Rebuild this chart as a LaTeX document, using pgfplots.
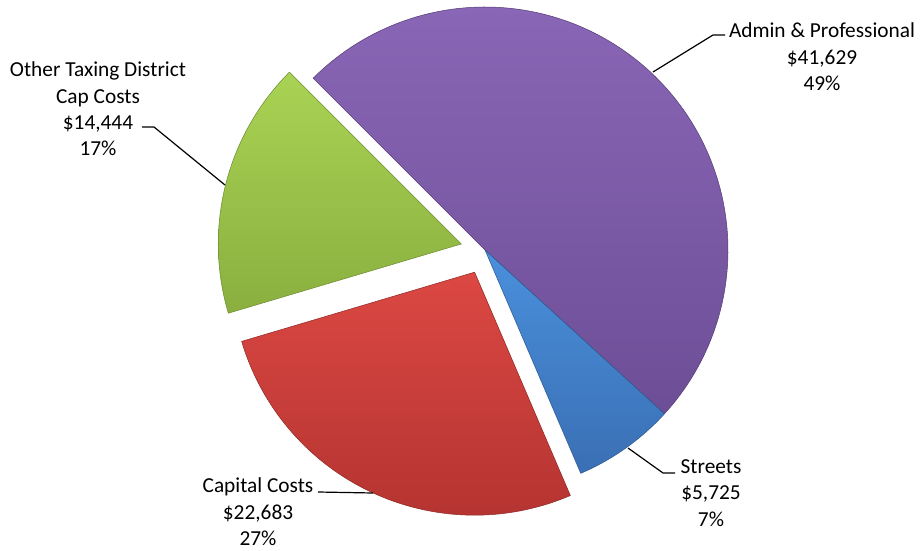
\documentclass[border=0pt]{standalone}
\usepackage{pgfplots}
\pgfplotsset{compat=1.18}
\usepackage{fontspec}
\setmainfont{Carlito}
\definecolor{pA}{HTML}{8A66B6}
\definecolor{pB}{HTML}{6C4E96}
\definecolor{bA}{HTML}{4A90DC}
\definecolor{bB}{HTML}{3A6FB4}
\definecolor{rA}{HTML}{DC4843}
\definecolor{rB}{HTML}{B53431}
\definecolor{gA}{HTML}{A9D354}
\definecolor{gB}{HTML}{8AAF3F}
\begin{document}
\begin{tikzpicture}
% values in thousands of dollars
\def\vA{41.629}% Admin & Professional
\def\vB{5.725}% Streets
\def\vC{22.683}% Capital Costs
\def\vD{14.444}% Other Taxing District Cap Costs
\def\R{243}
\pgfmathsetmacro\tot{\vA+\vB+\vC+\vD}
\pgfmathsetmacro\aA{135}
\pgfmathsetmacro\aB{\aA-\vA/\tot*360}
\pgfmathsetmacro\aC{\aB-\vB/\tot*360}
\pgfmathsetmacro\aD{\aC-\vC/\tot*360}
\pgfmathsetmacro\aE{\aD-\vD/\tot*360}
\pgfmathsetmacro\mC{(\aC+\aD)/2}
\pgfmathsetmacro\mD{(\aD+\aE)/2}
\pgfmathsetmacro\cxC{485+24.5*cos(\mC)}
\pgfmathsetmacro\cyC{300+24.5*sin(\mC)}
\pgfmathsetmacro\cxD{485+24.5*cos(\mD)}
\pgfmathsetmacro\cyD{300+24.5*sin(\mD)}
\begin{axis}[hide axis, scale only axis, width=690.75pt, height=412.5pt,
  xmin=0, xmax=921, ymin=0, ymax=550, clip=false]
\path (axis cs:0,0) rectangle (axis cs:921,550);
% Admin & Professional
\addplot[draw=pB!80!black, line width=0.4pt, top color=pA, bottom color=pB, domain=\aB:\aA, samples=120, variable=\t]
  ({485+\R*cos(\t)},{300+\R*sin(\t)}) -- (axis cs:485,300) -- cycle;
% Streets
\addplot[draw=bB!80!black, line width=0.4pt, top color=bA, bottom color=bB, domain=\aC:\aB, samples=40, variable=\t]
  ({485+\R*cos(\t)},{300+\R*sin(\t)}) -- (axis cs:485,300) -- cycle;
% Capital Costs (exploded)
\addplot[draw=rB!80!black, line width=0.4pt, top color=rA, bottom color=rB, domain=\aD:\aC, samples=80, variable=\t]
  ({\cxC+\R*cos(\t)},{\cyC+\R*sin(\t)}) -- (axis cs:\cxC,\cyC) -- cycle;
% Other Taxing District Cap Costs (exploded)
\addplot[draw=gB!80!black, line width=0.4pt, top color=gA, bottom color=gB, domain=\aE:\aD, samples=60, variable=\t]
  ({\cxD+\R*cos(\t)},{\cyD+\R*sin(\t)}) -- (axis cs:\cxD,\cyD) -- cycle;
% leader lines
\draw[black, line width=0.9pt] (axis cs:653,478) -- (axis cs:713,515) -- (axis cs:725,515);
\draw[black, line width=0.9pt] (axis cs:142,423) -- (axis cs:154,423) -- (axis cs:225,365);
\draw[black, line width=0.9pt] (axis cs:628,102) -- (axis cs:663,77) -- (axis cs:675,77);
\draw[black, line width=0.9pt] (axis cs:318,58) -- (axis cs:373,57);
% labels
\tikzset{lab/.style={align=center, inner sep=0pt, font=\fontsize{16}{19.8}\selectfont}}
\node[lab] at (axis cs:822,493) {Admin \& Professional\\\$41,629\\49\%};
\node[lab] at (axis cs:98,441) {Other Taxing District\\Cap Costs\\\$14,444\\17\%};
\node[lab] at (axis cs:711,57) {Streets\\\$5,725\\7\%};
\node[lab] at (axis cs:258,38) {Capital Costs\\\$22,683\\27\%};
\end{axis}
\end{tikzpicture}
\end{document}
